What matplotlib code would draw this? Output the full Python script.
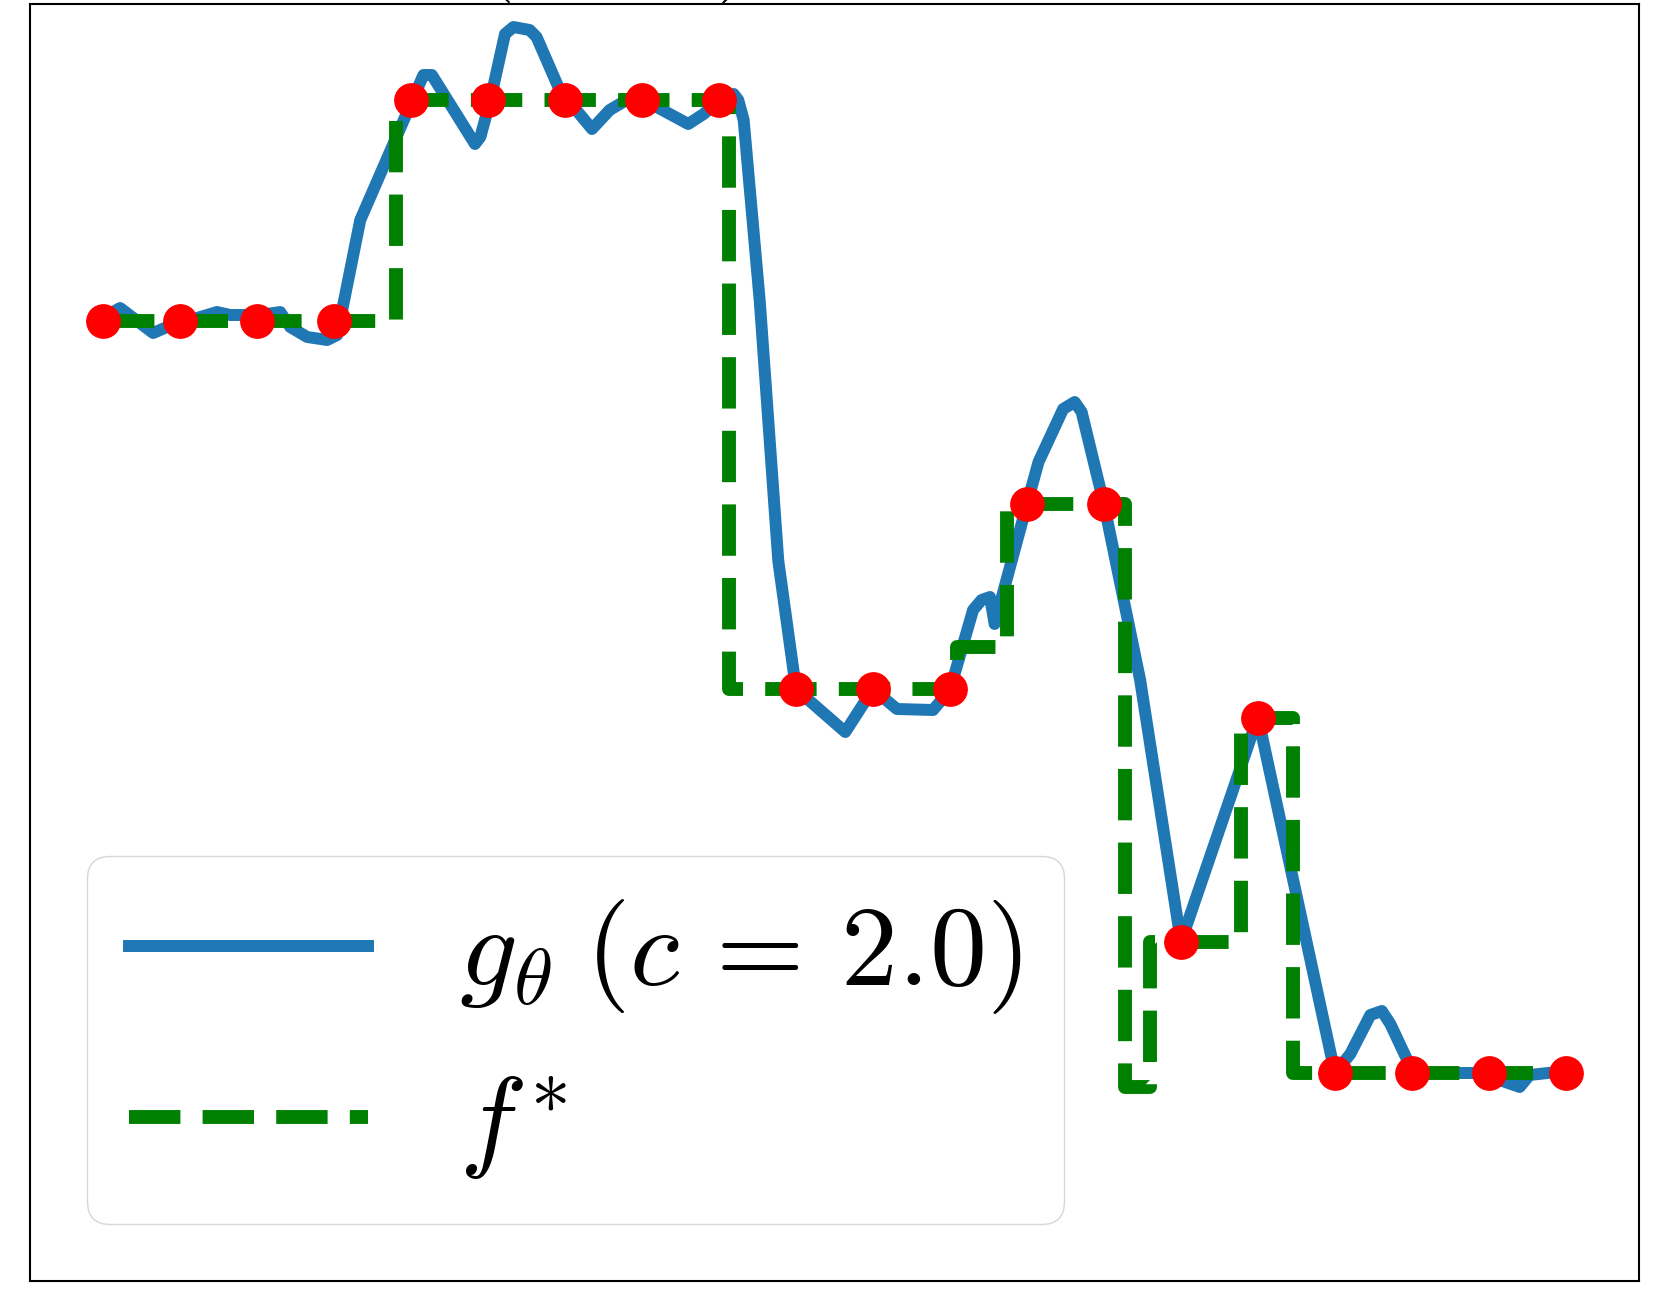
import matplotlib
matplotlib.use("Agg")
import matplotlib.pyplot as plt
import numpy as np

plt.rcParams['mathtext.fontset'] = 'cm'

# sample points (red dots) of f*
x_pts = [0, 1, 2, 3, 4, 5, 6, 7, 8, 9, 10, 11, 12, 13, 14, 15, 16, 17, 18, 19]
f_pts = [7.52, 7.52, 7.52, 7.52, 9.73, 9.73, 9.73, 9.73, 9.73, 3.84,
         3.84, 3.84, 5.69, 5.69, 1.31, 3.55, 0.0, 0.0, 0.0, 0.0]

# f* as a step function: edges and levels
f_edges = [0, 3.80, 8.13, 11.09, 11.74, 13.27, 13.60, 14.78, 15.45, 19]
f_levels = [7.52, 9.73, 3.84, 4.26, 5.69, -0.14, 1.31, 3.55, 0.0]

# g_theta curve (vertices)
g_x = [0.00, 0.13, 0.22, 0.65, 0.83, 1.48, 1.65, 2.04, 2.30, 2.43, 2.65, 2.91, 3.04,
       3.34, 4.16, 4.27, 4.83, 4.90, 5.03, 5.22, 5.33, 5.54, 5.63, 5.93, 6.35, 6.58,
       6.80, 7.02, 7.36, 7.60, 7.80, 8.01, 8.19, 8.25, 8.32, 8.53, 8.77, 9.00, 9.64,
       10.00, 10.31, 10.78, 11.00, 11.30, 11.41, 11.52, 11.58, 12.00, 12.15, 12.47,
       12.62, 12.71, 13.00, 13.47, 14.00, 15.00, 16.00, 16.20, 16.46, 16.61, 16.72,
       16.94, 17.00, 17.45, 18.00, 18.14, 18.40, 18.53, 19.00]
g_y = [7.55, 7.61, 7.65, 7.40, 7.46, 7.61, 7.58, 7.58, 7.61, 7.46, 7.36, 7.33, 7.38,
       8.53, 9.98, 9.98, 9.29, 9.36, 9.73, 10.39, 10.46, 10.43, 10.36, 9.83, 9.44, 9.63,
       9.73, 9.73, 9.59, 9.49, 9.59, 9.73, 9.79, 9.73, 9.53, 7.71, 5.12, 3.84, 3.41,
       3.84, 3.64, 3.63, 3.83, 4.63, 4.73, 4.76, 4.49, 5.69, 6.11, 6.64,
       6.71, 6.61, 5.69, 3.93, 1.31, 3.56, 0.00, 0.19, 0.58, 0.62, 0.49,
       0.13, 0.00, 0.00, 0.00, -0.07, -0.14, -0.02, 0.02]

fig = plt.figure(figsize=(16.6, 13.12), dpi=100)
ax = fig.add_axes([30 / 1660, 1 - 1281 / 1312, 1609 / 1660, 1277 / 1312])

ax.plot(g_x, g_y, color='#1f77b4', lw=8.6, label=r'$g_\theta\;(c\,=\,2.0)$', zorder=2)
ax.plot(f_edges, f_levels + [f_levels[-1]], color='green', lw=10, ls='--',
        drawstyle='steps-post', label=r'$f^{\!*}$', zorder=3)
ax.plot(x_pts, f_pts, 'o', color='red', ms=24, zorder=4)

ax.set_xlim(-0.95, 19.95)
ax.set_ylim(-2.08, 10.69)
ax.set_xticks([])
ax.set_yticks([])
for s in ax.spines.values():
    s.set_linewidth(1.5)

ax.legend(loc='lower left', fontsize=82, handlelength=2.1,
          labelspacing=0.47, borderpad=0.37)

# title is cut off at the top of the image, only its lowest part shows
fig.text(0.369, 1.0114, r'$(c = 2.0)$', fontsize=52, ha='center', va='baseline')

fig.savefig('out.png', dpi=100)
